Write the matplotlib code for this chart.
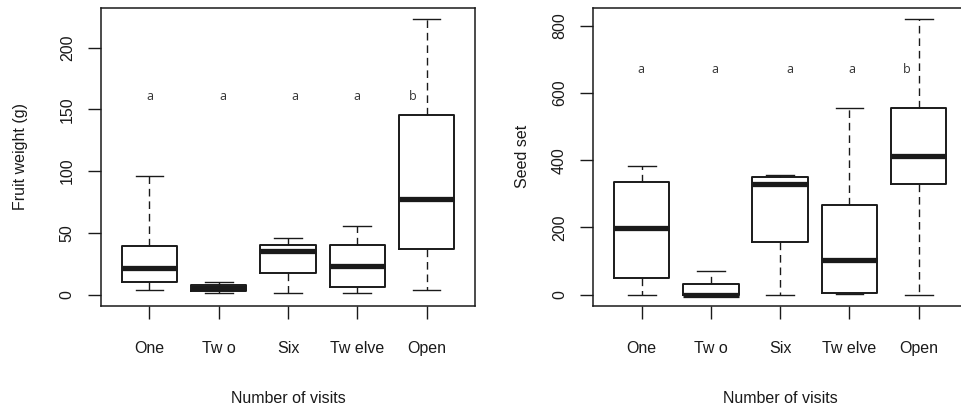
import matplotlib
matplotlib.use("Agg")
import matplotlib.pyplot as plt

plt.rcParams['font.family'] = ['Liberation Sans', 'DejaVu Sans']

# groups (tick labels kept as they appear in the figure)
groups = ['One', 'Tw o', 'Six', 'Tw elve', 'Open']

# fruit weight (g): whisker low, Q1, median, Q3, whisker high
fw_lo = [3.7, 1.0, 1.3, 1.3, 3.7]
fw_q1 = [9.9, 3.2, 17.7, 6.1, 36.7]
fw_med = [21.7, 5.5, 35.4, 23.0, 77.2]
fw_q3 = [39.0, 7.7, 40.2, 40.2, 145.6]
fw_hi = [96.2, 10.5, 45.5, 55.7, 223.0]
fw_letters = ['a', 'a', 'a', 'a', 'b']
fw_letter_x = [1.01, 2.06, 3.10, 3.99, 4.80]
fw_letter_y = 160

# seed set
ss_lo = [0, 0, 0, 1, 0]
ss_q1 = [48.5, 0, 155.4, 5, 329]
ss_med = [197, 0, 328.7, 104, 413]
ss_q3 = [336.5, 32.7, 351, 266, 556]
ss_hi = [384, 70, 357, 556, 820]
ss_letters = ['a', 'a', 'a', 'a', 'b']
ss_letter_x = [0.99, 2.06, 3.14, 4.03, 4.83]
ss_letter_y = 671

txt = '#1a1a1a'


def make_stats(lo, q1, med, q3, hi):
    out = []
    for i in range(len(lo)):
        out.append({'whislo': lo[i], 'q1': q1[i], 'med': med[i],
                    'q3': q3[i], 'whishi': hi[i], 'fliers': []})
    return out


def draw_panel(ax, stats, letters, lx, ly, yticks, ylabel, ypad):
    ax.bxp(stats, positions=range(1, 6), widths=0.8, capwidths=0.4,
           showfliers=False,
           boxprops=dict(color=txt, linewidth=1.4),
           medianprops=dict(color=txt, linewidth=3.8, solid_capstyle='butt'),
           whiskerprops=dict(color=txt, linewidth=1.0, linestyle=(0, (5.5, 3.5))),
           capprops=dict(color=txt, linewidth=1.0))
    ax.set_xlim(0.3, 5.7)
    ymax = max(s['whishi'] for s in stats)
    ax.set_ylim(-0.04 * ymax, 1.04 * ymax)
    ax.set_xticks(range(1, 6))
    ax.set_xticklabels(groups)
    ax.set_yticks(yticks)
    ax.set_yticklabels([str(v) for v in yticks])
    ax.tick_params(axis='x', length=9.4, width=1.0, pad=16, labelsize=11.5,
                   colors=txt)
    ax.tick_params(axis='y', length=9.4, width=1.0, pad=9.5, labelsize=11.5,
                   colors=txt, labelrotation=90)
    for lab in ax.get_yticklabels():
        lab.set_va('center')
    for sp in ax.spines.values():
        sp.set_linewidth(1.1)
        sp.set_color(txt)
    for i in range(len(letters)):
        ax.text(lx[i], ly, letters[i], ha='center', va='center',
                fontsize=9, color='#333333',
                family=['Open Sans', 'DejaVu Sans'])
    ax.set_ylabel(ylabel, fontsize=11.5, color=txt, labelpad=ypad)
    ax.set_xlabel('Number of visits', fontsize=11.5, color=txt, labelpad=25.5)


fig = plt.figure(figsize=(9.62, 4.09), dpi=100)
ax1 = fig.add_axes([0.105, 0.253, 0.3888, 0.727])
ax2 = fig.add_axes([0.6166, 0.253, 0.3888, 0.727])

draw_panel(ax1, make_stats(fw_lo, fw_q1, fw_med, fw_q3, fw_hi),
           fw_letters, fw_letter_x, fw_letter_y, [0, 50, 100, 150, 200],
           'Fruit weight (g)', 23)
draw_panel(ax2, make_stats(ss_lo, ss_q1, ss_med, ss_q3, ss_hi),
           ss_letters, ss_letter_x, ss_letter_y, [0, 200, 400, 600, 800],
           'Seed set', 16)

fig.savefig('out.png', dpi=100)
